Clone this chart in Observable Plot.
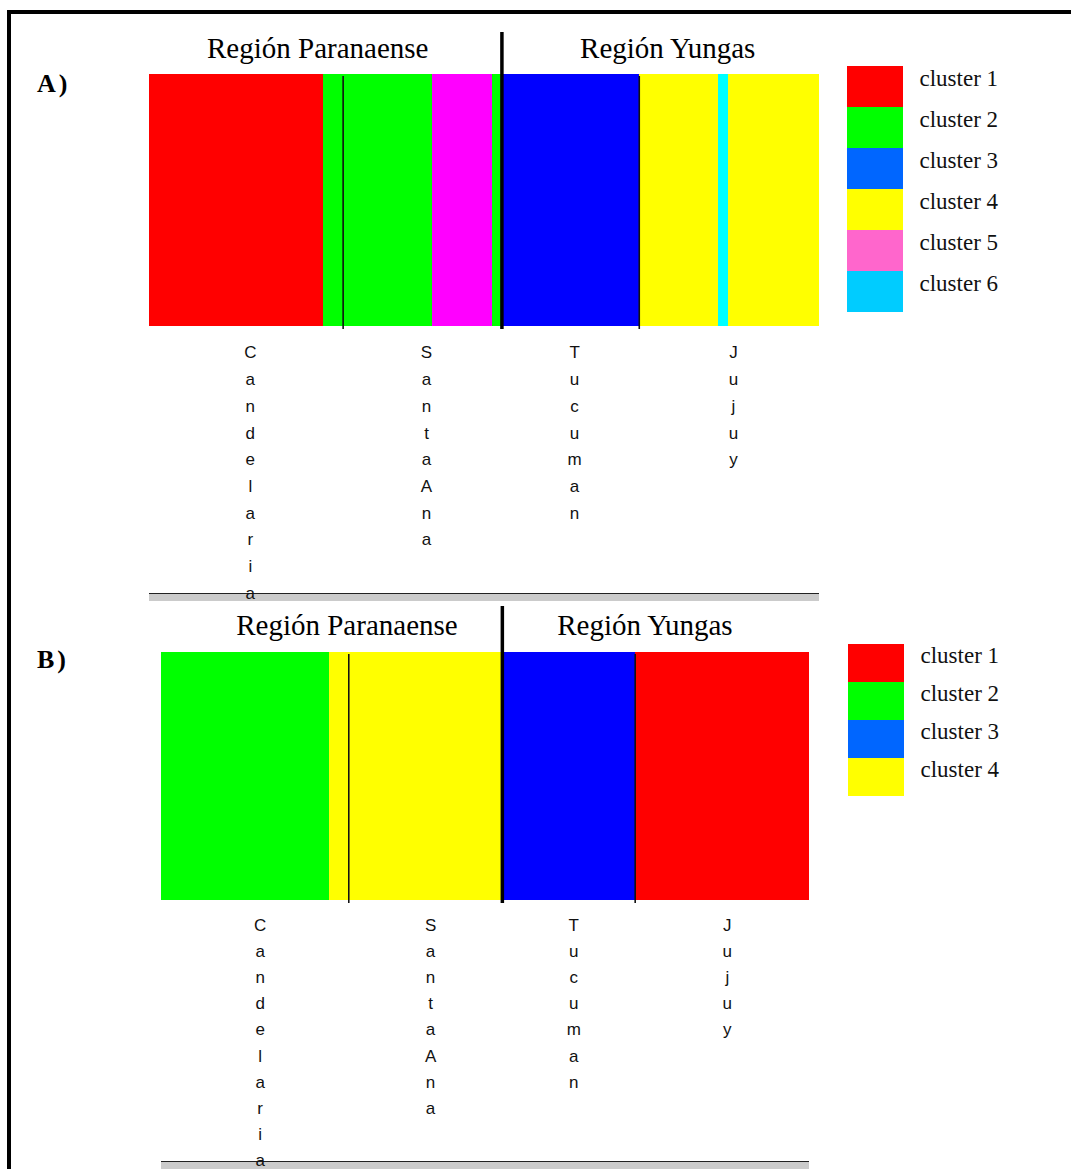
<!DOCTYPE html>
<html><head><meta charset="utf-8">
<script src="https://cdn.jsdelivr.net/npm/d3@7"></script>
<script src="https://cdn.jsdelivr.net/npm/@observablehq/plot@0.6"></script>
<style>
body{margin:0;background:#fff;}
#page{position:relative;width:1071px;height:1169px;overflow:hidden;background:#fff;}
.frame{position:absolute;left:7px;top:10px;width:2000px;height:2000px;border-left:4px solid #000;border-top:4px solid #000;}
.tag{position:absolute;font-family:"Liberation Serif",serif;font-weight:bold;font-size:26px;letter-spacing:3px;line-height:26px;color:#000;}
.base{position:absolute;height:7px;background:#cbcbcb;border-top:1.5px solid #222;}
</style></head><body><div id="page"><div class="frame"></div></div>
<script>
// ---- data ----
const populations = ["Candelaria", "SantaAna", "Tucuman", "Jujuy"];
const popEnds = [28.9, 52.6, 73.1, 100];          // cumulative % of individuals
const regions = ["Región Paranaense", "Región Yungas"];
const popRegion = [0, 0, 1, 1];

// Panel A (K = 6)
const clustersA = ["cluster 1", "cluster 2", "cluster 3", "cluster 4", "cluster 5", "cluster 6"];
const barColorsA = ["#ff0000", "#00ff00", "#0000ff", "#ffff00", "#ff00ff", "#00ffff"];
const legendColorsA = ["#ff0000", "#00ff00", "#0066ff", "#ffff00", "#ff66cc", "#00ccff"];
const segClusterA = [1, 2, 5, 2, 3, 4, 6, 4];
const segEndA = [26.0, 42.2, 51.2, 52.6, 73.1, 84.9, 86.4, 100];

// Panel B (K = 4)
const clustersB = ["cluster 1", "cluster 2", "cluster 3", "cluster 4"];
const barColorsB = ["#ff0000", "#00ff00", "#0000ff", "#ffff00"];
const legendColorsB = ["#ff0000", "#00ff00", "#0066ff", "#ffff00"];
const segClusterB = [2, 4, 3, 1];
const segEndB = [25.9, 52.6, 73.1, 100];

// ---- drawing ----
const page = document.getElementById("page");
function place(node, left, top) {
  node.style.position = "absolute";
  node.style.left = left + "px";
  node.style.top = top + "px";
  page.appendChild(node);
}

function base(left, top, width) {
  const d = document.createElement("div");
  d.className = "base";
  d.style.left = left + "px"; d.style.top = top + "px"; d.style.width = width + "px";
  page.appendChild(d);
}
base(149, 593, 670);
base(161, 1161, 648);

function panel(o) {
  const clusters = o.clusters;
  const segs = o.segEnds.map((e, i) => ({x1: i ? o.segEnds[i - 1] : 0, x2: e, c: clusters[o.segClusters[i] - 1]}));
  const pops = populations.map((p, i) => ({name: p, x1: i ? popEnds[i - 1] : 0, x2: popEnds[i]}));
  const regs = regions.map((r, k) => {
    const idx = popRegion.map((g, i) => g === k ? i : -1).filter(i => i >= 0);
    return {name: r, x1: pops[idx[0]].x1, x2: pops[idx[idx.length - 1]].x2};
  });
  const popBounds = [pops[0].x2, pops[2].x2];
  const regionBounds = [regs[0].x2];
  const W = o.right + 11;
  const chart = Plot.plot({
    width: W, height: o.height,
    marginTop: o.mTop, marginBottom: o.mBottom, marginLeft: o.left, marginRight: 11,
    x: {domain: [0, 100], axis: null},
    y: {domain: [0, 1], axis: null},
    color: {domain: clusters, range: o.barColors},
    style: {background: "transparent", overflow: "visible"},
    marks: [
      Plot.rect(segs, {x1: "x1", x2: "x2", y1: 0, y2: 1, fill: "c", shapeRendering: "crispEdges"}),
      Plot.ruleX(popBounds, {x: d => d, y1: 1, y2: 0, stroke: "#111", strokeWidth: 1.6, insetTop: 2, insetBottom: -3}),
      Plot.ruleX(regionBounds, {x: d => d, y1: 1, y2: 0, stroke: "#000", strokeWidth: 3.5, insetTop: o.divTop, insetBottom: -3}),
      ...regs.map((r, i) => Plot.text([r], {
        x: d => (d.x1 + d.x2) / 2, y: 1, text: "name", dy: o.titleDy, dx: o.titleDx[i],
        fontFamily: "Liberation Serif", fontSize: 29, fill: "#000", lineAnchor: "middle"
      })),
      Plot.text(pops, {
        x: d => (d.x1 + d.x2) / 2, y: 0, text: d => d.name.split("").join("\n"),
        lineAnchor: "top", dy: o.letterDy, dx: o.letterDx, lineHeight: o.lineHeight,
        fontFamily: "Liberation Sans", fontSize: 17, fill: "#111"
      })
    ]
  });
  place(chart, 0, o.top);
}

function legend(clusters, colors, left, top, h) {
  const lg = Plot.plot({
    width: 200, height: h, margin: 0, marginRight: 144,
    x: {axis: null}, y: {domain: clusters, axis: null, padding: 0},
    color: {domain: clusters, range: colors},
    style: {background: "transparent", overflow: "visible"},
    marks: [
      Plot.cell(clusters, {y: d => d, fill: d => d}),
      Plot.text(clusters, {y: d => d, text: d => d, textAnchor: "start", dx: 44, dy: -8, lineAnchor: "middle",
        fontFamily: "Liberation Serif", fontSize: 23, fill: "#111"})
    ]
  });
  place(lg, left, top);
}

panel({clusters: clustersA, barColors: barColorsA, segClusters: segClusterA, segEnds: segEndA,
  top: 20, height: 590, mTop: 54, mBottom: 284, left: 149, right: 819,
  divTop: -42, titleDy: -26, titleDx: [-8, 7], letterDy: 13, letterDx: 4, lineHeight: 1.57});
panel({clusters: clustersB, barColors: barColorsB, segClusters: segClusterB, segEnds: segEndB,
  top: 600, height: 569, mTop: 52, mBottom: 269, left: 161, right: 809,
  divTop: -46, titleDy: -27, titleDx: [15, -11], letterDy: 12, letterDx: 5, lineHeight: 1.535});

legend(clustersA, legendColorsA, 847, 65, 247);
legend(clustersB, legendColorsB, 848, 642, 155);

function tag(t, left, top) {
  const d = document.createElement("div");
  d.className = "tag"; d.textContent = t;
  d.style.left = left + "px"; d.style.top = top + "px";
  page.appendChild(d);
}
tag("A)", 37, 71);
tag("B)", 37, 647);
</script></body></html>
